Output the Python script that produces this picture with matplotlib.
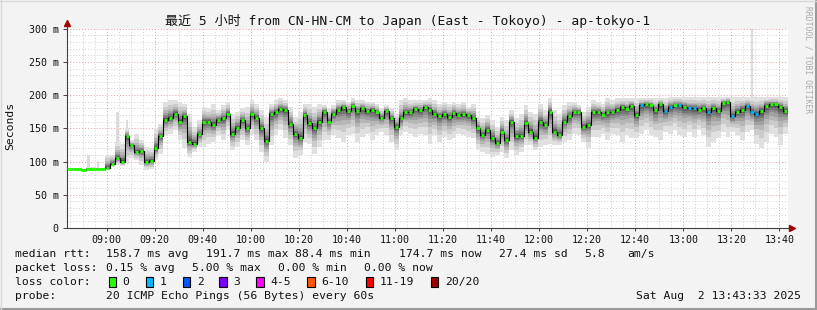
import matplotlib
matplotlib.use("Agg")
import matplotlib.pyplot as plt
from matplotlib.patches import Rectangle
from matplotlib.lines import Line2D
from matplotlib.ticker import FixedLocator, MultipleLocator, FuncFormatter
import numpy as np

W, H = 817, 310
MONO = ['DejaVu Sans Mono', 'Noto Sans CJK SC']

# time axis: minutes since midnight, one value per 2 minutes, window 08:43:33 - 13:43:33
start_min = 8 * 60 + 43.55
bin_min = 2.0

# median rtt per bin (ms)
median = [89, 89, 89, 88, 88.5, 88.5, 89, 89,
          91, 97, 105, 100, 138, 125, 114, 116, 100, 101, 120, 138, 163, 166, 172, 160, 168,
          130, 127, 141, 160, 160, 155, 163, 165, 172, 142, 151, 162, 150, 171, 166, 150, 131, 172, 174, 179, 178, 157, 142, 135, 170,
          158, 150, 160, 175, 160, 172, 178, 182, 176, 184, 176, 180, 176, 178, 174, 166, 176, 165, 152, 165, 174, 174, 179, 177, 182,
          178, 172, 168, 171, 167, 173, 170, 171, 170, 165, 150, 140, 148, 135, 128, 145, 132, 160, 138, 138, 158, 145, 136, 160, 155,
          175, 145, 140, 160, 168, 174, 175, 152, 155, 174, 175, 170, 174, 174, 178, 182, 179, 184, 170, 185, 186, 185, 177, 186, 176,
          182, 185, 185, 182, 180, 180, 178, 180, 175, 180, 176, 188, 190, 168, 175, 178, 183, 175, 172, 176, 184, 186, 186, 182, 176]

# slowest ping per bin (ms)
ping_hi = [90, 90, 90, 90, 92, 92, 91, 90,
           110, 110, 130, 127, 150, 132, 142, 132, 122, 120, 150, 157, 190, 192, 192, 190, 187,
           172, 152, 162, 182, 180, 187, 177, 185, 190, 172, 175, 180, 182, 192, 187, 177, 167, 187, 192, 195, 192, 182, 167, 175, 187,
           187, 182, 187, 185, 180, 185, 192, 192, 190, 195, 192, 192, 190, 190, 187, 180, 185, 180, 172, 192, 195, 192, 192, 192, 192,
           195, 192, 187, 190, 187, 190, 187, 190, 182, 187, 167, 165, 170, 162, 152, 167, 162, 177, 165, 172, 185, 175, 172, 187, 177,
           195, 177, 172, 185, 190, 190, 185, 175, 182, 192, 190, 187, 195, 192, 195, 195, 195, 195, 195, 195, 195, 195, 195, 195, 195,
           197, 197, 197, 197, 197, 197, 197, 197, 197, 197, 197, 197, 197, 197, 197, 197, 197, 197, 197, 197, 197, 197, 197, 197, 197]

# fastest ping per bin (ms)
ping_lo = [88, 88, 87, 87, 87, 87, 87, 87,
           88, 91.5, 95, 93.5, 97, 105, 102, 95, 88, 89, 102, 112, 140, 142, 147, 132, 120,
           107, 115, 122, 122, 127, 130, 140, 132, 147, 117, 122, 132, 125, 140, 132, 115, 100, 125, 140, 147, 135, 125, 105, 110, 130,
           127, 112, 122, 132, 132, 140, 135, 130, 140, 142, 130, 137, 142, 132, 140, 145, 140, 130, 117, 140, 145, 142, 137, 142, 140,
           127, 140, 130, 137, 132, 135, 142, 140, 137, 135, 117, 115, 112, 107, 110, 115, 105, 117, 110, 115, 125, 125, 117, 122, 125,
           127, 125, 125, 130, 132, 142, 140, 130, 120, 137, 137, 142, 132, 142, 140, 130, 140, 135, 135, 142, 147, 140, 137, 132, 145,
           142, 147, 140, 137, 145, 137, 147, 140, 122, 130, 135, 145, 137, 145, 140, 132, 145, 147, 127, 120, 130, 142, 137, 125, 142]

# bins with one lost ping out of 20
loss_bins = [119, 124, 125, 127, 129, 130, 133, 138, 141, 142, 143]

# single outlier pings
spike_bins = [4, 6, 10, 12, 142]
spike_tops = [110, 101, 175, 162, 300]

loss_labels = ['0', '1', '2', '3', '4-5', '6-10', '11-19', '20/20']
loss_colors = ['#26ff00', '#00b8ff', '#0059ff', '#7e00ff', '#ff00ff', '#ff5500', '#ff0000', '#a10000']

fig = plt.figure(figsize=(W / 100, H / 100), dpi=100, facecolor='#f3f3f3')


def fx(x):
    return x / W


def fy(y):
    return 1 - y / H


ax = fig.add_axes([fx(67), fy(228), 721 / W, 199.3 / H])
ax.set_facecolor('white')

med = np.array(median, dtype=float)
hi = np.array(ping_hi, dtype=float)
lo = np.array(ping_lo, dtype=float)
n = len(med)
edges = start_min + bin_min * np.arange(n + 1)


def ext(a):
    return np.append(a, a[-1])


# smoke: layers from outer (light) to inner (dark)
fracs = [1.0, 0.72, 0.52, 0.38, 0.27, 0.19, 0.12, 0.07, 0.035]
grays = np.linspace(0.88, 0.22, len(fracs))
for f, g in zip(fracs, grays):
    top = med + f * (hi - med)
    bot = med - f * (med - lo)
    ax.fill_between(edges, ext(bot), ext(top), step='post', color=str(g), lw=0, zorder=2)

for b, t in zip(spike_bins, spike_tops):
    x0 = edges[b] + 0.5
    ax.fill_between([x0, x0 + 1.0], hi[b], t, color='0.86', lw=0, zorder=2)

# median line: black step, coloured by loss
ax.step(edges, ext(med), where='post', color='black', lw=0.8, zorder=3)
seg_colors = [loss_colors[1] if i in loss_bins else loss_colors[0] for i in range(n)]
ax.hlines(med, edges[:-1] + 0.35, edges[1:] - 0.35, colors=seg_colors, lw=2.0, zorder=4)
ax.hlines(med[:8], edges[:8], edges[1:9], colors=loss_colors[0], lw=2.0, zorder=4)

ax.set_xlim(start_min, start_min + 300)
ax.set_ylim(0, 300)

ax.xaxis.set_major_locator(FixedLocator(np.arange(540, 824, 20)))
ax.xaxis.set_minor_locator(MultipleLocator(5))
ax.yaxis.set_major_locator(MultipleLocator(50))
ax.yaxis.set_minor_locator(MultipleLocator(10))
ax.xaxis.set_major_formatter(FuncFormatter(lambda v, p: f'{int(v // 60):02d}:{int(round(v % 60)):02d}'))
ax.yaxis.set_major_formatter(FuncFormatter(lambda v, p: '0' if v == 0 else f'{int(v)} m'))

ax.grid(which='minor', color='#cfcfcf', ls=(0, (1, 2)), lw=0.7)
ax.grid(which='major', color='#e89a9a', ls=(0, (1, 2)), lw=0.7)
ax.set_axisbelow(True)

ax.tick_params(which='minor', length=0)
ax.tick_params(axis='y', which='major', length=3, width=0.7, color='#404040', pad=3,
               labelsize=7.2, labelcolor='#111111')
ax.tick_params(axis='x', which='major', length=2, width=0.7, color='#404040', pad=3,
               labelsize=7.2, labelcolor='#111111')
for lab in ax.get_xticklabels() + ax.get_yticklabels():
    lab.set_family(MONO)

for s in ['top', 'right']:
    ax.spines[s].set_visible(False)
for s in ['left', 'bottom']:
    ax.spines[s].set_color('#404040')
    ax.spines[s].set_linewidth(0.8)

# axis arrows
ax.plot([0, 0], [1, 1.025], transform=ax.transAxes, color='#404040', lw=0.8, clip_on=False)
ax.plot([0], [1.03], transform=ax.transAxes, marker='^', color='#a00000', ms=4, clip_on=False)
ax.plot([1.0, 1.004], [0, 0], transform=ax.transAxes, color='#404040', lw=0.8, clip_on=False)
ax.plot([1.005], [0], transform=ax.transAxes, marker='>', color='#a00000', ms=4, clip_on=False)

# texts
fig.text(fx(408), fy(21.5), '最近 5 小时 from CN-HN-CM to Japan (East - Tokoyo) - ap-tokyo-1',
         ha='center', va='center', fontsize=9.4, family=MONO, color='#111111')
fig.text(fx(10), fy(126), 'Seconds', rotation=90, ha='center', va='center',
         fontsize=8.2, family=MONO, color='#111111')
fig.text(fx(808), fy(60), 'RRDTOOL / TOBI OETIKER', rotation=270, ha='center', va='center',
         fontsize=5.8, family=MONO, color='#aaaaaa')

LS = 8.2
rows = [
    (254, [(16, 'median rtt:'), (107, '158.7 ms avg'), (207, '191.7 ms max'), (296, '88.4 ms min'),
           (400, '174.7 ms now'), (500, '27.4 ms sd'), (585.5, '5.8'), (628, 'am/s')]),
    (268, [(16, 'packet loss:'), (107, '0.15 % avg'), (193, '5.00 % max'), (279, '0.00 % min'),
           (365.5, '0.00 % now')]),
    (282, [(16, 'loss color:')]),
    (296, [(16, 'probe:'), (107, '20 ICMP Echo Pings (56 Bytes) every 60s')]),
]
for y, items in rows:
    for x, s in items:
        fig.text(fx(x - 1), fy(y), s, ha='left', va='center', fontsize=LS, family=MONO, color='#111111')

fig.text(fx(801), fy(296), 'Sat Aug  2 13:43:33 2025', ha='right', va='center',
         fontsize=LS, family=MONO, color='#111111')

sq_x = [108.7, 145.7, 182.7, 219.3, 256, 307, 365.7, 430.7]
for x, lab, c in zip(sq_x, loss_labels, loss_colors):
    fig.add_artist(Rectangle((fx(x), fy(287)), 7.5 / W, 10 / H, facecolor=c,
                             edgecolor='black', lw=0.8, transform=fig.transFigure))
    fig.text(fx(x + 14), fy(282), lab, ha='left', va='center', fontsize=LS, family=MONO, color='#111111')

# 3d frame
fig.add_artist(Line2D([0, 1], [fy(309), fy(309)], transform=fig.transFigure, color='#9a9a9a', lw=1.5))
fig.add_artist(Line2D([fx(816), fx(816)], [0, 1], transform=fig.transFigure, color='#9a9a9a', lw=1.5))
fig.add_artist(Line2D([0, 1], [fy(0.5), fy(0.5)], transform=fig.transFigure, color='#d8d8d8', lw=1))
fig.add_artist(Line2D([fx(0.5), fx(0.5)], [0, 1], transform=fig.transFigure, color='#d8d8d8', lw=1))

fig.savefig('out.png', dpi=100, facecolor=fig.get_facecolor())
